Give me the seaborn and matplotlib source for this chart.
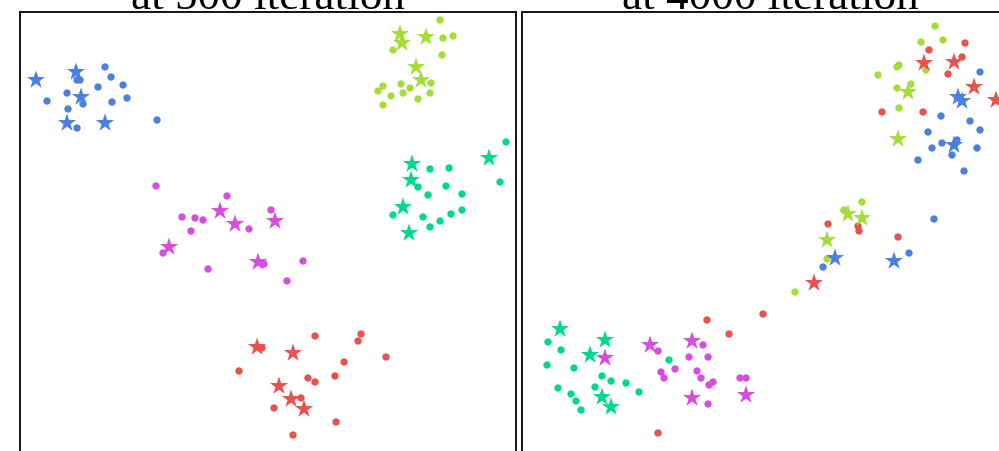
import matplotlib
matplotlib.use("Agg")
import matplotlib.pyplot as plt
import seaborn as sns
import pandas as pd

# ---------------- data (figure-pixel coordinates) ----------------
classes = ["blue", "lime", "green", "magenta", "red"]
palette = {"blue": "#4a80e0", "lime": "#a6dc3a", "green": "#00d98c",
           "magenta": "#d64de0", "red": "#e8524e"}
titles = ["at 500 iteration", "at 4000 iteration"]

# Panel 1
p1_blue_star_x = [36, 76, 81, 67, 105]
p1_blue_star_y = [80, 72, 97, 123, 123]
p1_blue_dot_x = [105, 77, 80, 111, 123, 98, 67, 47, 83, 112, 127, 68, 77, 157]
p1_blue_dot_y = [67, 80, 80, 77, 85, 87, 93, 101, 104, 102, 98, 109, 128, 120]

p1_lime_star_x = [400, 402, 426, 416, 421]
p1_lime_star_y = [34, 43, 37, 67, 80]
p1_lime_dot_x = [440, 443, 453, 393, 442, 383, 378, 401, 410, 431, 391, 403, 430, 418, 383]
p1_lime_dot_y = [20, 38, 36, 50, 55, 86, 91, 84, 88, 83, 96, 93, 93, 99, 105]

p1_green_star_x = [412, 411, 403, 409, 489]
p1_green_star_y = [164, 180, 207, 233, 158]
p1_green_dot_x = [506, 500, 430, 449, 418, 446, 428, 462, 393, 423, 451, 462, 440, 430]
p1_green_dot_y = [142, 182, 169, 168, 187, 186, 195, 194, 215, 217, 214, 210, 221, 227]

p1_mag_star_x = [220, 235, 275, 169, 258]
p1_mag_star_y = [211, 224, 221, 247, 262]
p1_mag_dot_x = [156, 227, 182, 195, 203, 271, 191, 249, 163, 264, 303, 208, 287]
p1_mag_dot_y = [186, 196, 217, 218, 220, 210, 231, 229, 253, 264, 261, 269, 281]

p1_red_star_x = [257, 293, 279, 291, 304]
p1_red_star_y = [347, 353, 386, 399, 409]
p1_red_dot_x = [262, 315, 361, 358, 386, 344, 239, 335, 308, 315, 301, 274, 336, 293]
p1_red_dot_y = [348, 336, 334, 341, 357, 362, 371, 376, 378, 382, 398, 408, 422, 435]

# Panel 2
p2_blue_star_x = [958, 962, 954, 835, 894]
p2_blue_star_y = [97, 101, 145, 258, 261]
p2_blue_dot_x = [980, 941, 970, 980, 928, 942, 957, 932, 977, 952, 918, 964, 934, 909, 823]
p2_blue_dot_y = [72, 116, 121, 130, 132, 143, 140, 148, 148, 155, 160, 171, 219, 253, 267]

p2_lime_star_x = [908, 898, 848, 862, 827]
p2_lime_star_y = [92, 139, 214, 218, 240]
p2_lime_dot_x = [935, 921, 943, 926, 897, 899, 878, 911, 897, 899, 862, 844, 827, 795]
p2_lime_dot_y = [26, 42, 40, 70, 67, 65, 75, 84, 88, 108, 202, 210, 259, 292]

p2_green_star_x = [560, 605, 590, 602, 611]
p2_green_star_y = [329, 340, 355, 397, 407]
p2_green_dot_x = [548, 561, 547, 574, 602, 611, 626, 595, 558, 639, 571, 576, 581, 669]
p2_green_dot_y = [342, 350, 365, 368, 376, 381, 383, 387, 388, 392, 394, 401, 410, 360]

p2_mag_star_x = [650, 692, 605, 692, 746]
p2_mag_star_y = [345, 341, 358, 398, 395]
p2_mag_dot_x = [658, 703, 689, 708, 675, 661, 664, 697, 701, 709, 713, 740, 746, 708]
p2_mag_dot_y = [351, 345, 357, 357, 369, 372, 378, 371, 378, 385, 382, 378, 378, 404]

p2_red_star_x = [924, 954, 974, 996, 814]
p2_red_star_y = [63, 62, 87, 100, 283]
p2_red_dot_x = [965, 929, 962, 948, 882, 923, 828, 858, 859, 898, 763, 729, 707, 658]
p2_red_dot_y = [43, 50, 57, 74, 112, 112, 224, 226, 231, 237, 314, 334, 320, 433]


def frame(entries):
    rows = []
    for cls, kind, xs, ys in entries:
        for x, y in zip(xs, ys):
            rows.append({"x": x, "y": y, "cls": cls, "kind": kind})
    return pd.DataFrame(rows)


df1 = frame([
    ("blue", "dot", p1_blue_dot_x, p1_blue_dot_y), ("blue", "star", p1_blue_star_x, p1_blue_star_y),
    ("lime", "dot", p1_lime_dot_x, p1_lime_dot_y), ("lime", "star", p1_lime_star_x, p1_lime_star_y),
    ("green", "dot", p1_green_dot_x, p1_green_dot_y), ("green", "star", p1_green_star_x, p1_green_star_y),
    ("magenta", "dot", p1_mag_dot_x, p1_mag_dot_y), ("magenta", "star", p1_mag_star_x, p1_mag_star_y),
    ("red", "dot", p1_red_dot_x, p1_red_dot_y), ("red", "star", p1_red_star_x, p1_red_star_y),
])
df2 = frame([
    ("blue", "dot", p2_blue_dot_x, p2_blue_dot_y), ("blue", "star", p2_blue_star_x, p2_blue_star_y),
    ("lime", "dot", p2_lime_dot_x, p2_lime_dot_y), ("lime", "star", p2_lime_star_x, p2_lime_star_y),
    ("green", "dot", p2_green_dot_x, p2_green_dot_y), ("green", "star", p2_green_star_x, p2_green_star_y),
    ("magenta", "dot", p2_mag_dot_x, p2_mag_dot_y), ("magenta", "star", p2_mag_star_x, p2_mag_star_y),
    ("red", "dot", p2_red_dot_x, p2_red_dot_y), ("red", "star", p2_red_star_x, p2_red_star_y),
])

# ---------------- figure ----------------
sns.set_style("white")
W, H = 999, 451
fig = plt.figure(figsize=(W / 100, H / 100), dpi=100)

panels = [(df1, 20, 516), (df2, 522, 1018)]
top_px, bot_px = 12, 512
for (df, x0, x1), title in zip(panels, titles):
    ax = fig.add_axes([x0 / W, 1 - bot_px / H, (x1 - x0) / W, (bot_px - top_px) / H])
    sns.scatterplot(data=df[df.kind == "dot"], x="x", y="y", hue="cls", palette=palette,
                    marker="o", s=28, linewidth=0, legend=False, ax=ax)
    sns.scatterplot(data=df[df.kind == "star"], x="x", y="y", hue="cls", palette=palette,
                    marker="*", s=190, linewidth=0, legend=False, ax=ax)
    ax.set_xlim(x0, x1)
    ax.set_ylim(bot_px, top_px)
    ax.set_xticks([]); ax.set_yticks([])
    ax.set_xlabel(""); ax.set_ylabel("")
    for sp in ax.spines.values():
        sp.set_visible(True)
        sp.set_color("black")
        sp.set_linewidth(1.3)
    fig.text((x0 + x1) / 2 / W, 1 - 9 / H, title, ha="center", va="baseline",
             fontsize=32.5, family="Liberation Serif", color="black")

fig.savefig("out.png", dpi=100)
